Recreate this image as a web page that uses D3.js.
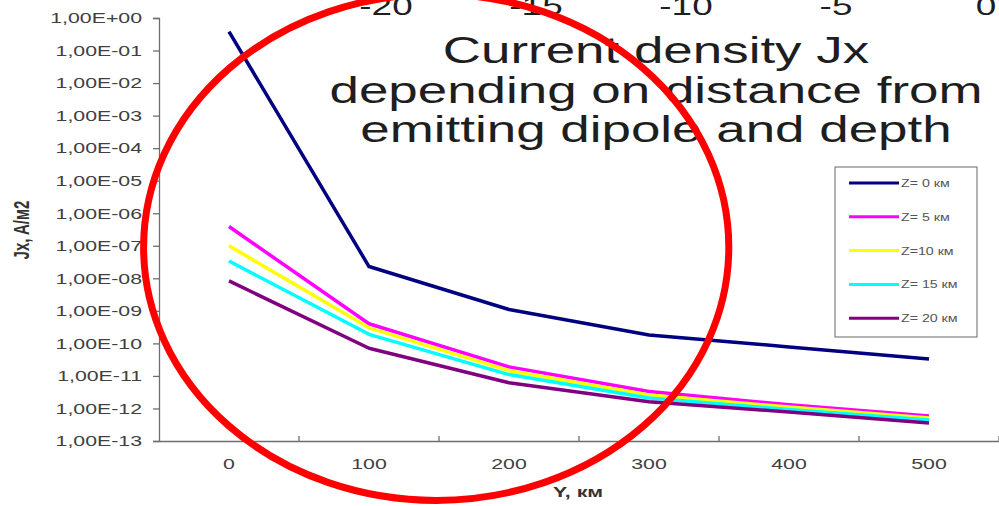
<!DOCTYPE html>
<html>
<head>
<meta charset="utf-8">
<script src="https://cdn.jsdelivr.net/npm/d3@7"></script>
<style>
  html, body { margin: 0; padding: 0; background: #fff; }
  svg { display: block; font-family: "Liberation Sans", Arial, sans-serif; }
</style>
</head>
<body>
<svg id="chart" width="999" height="506"></svg>
<script>
// Distance from the emitting dipole, km
const categories = [0, 100, 200, 300, 400, 500];

// Current density Jx (A/m2) for each depth Z
const z0  = [3.8e-1, 2.3e-8, 1.1e-9,  1.8e-10, 7.8e-11, 3.3e-11];
const z5  = [3.9e-7, 4.0e-10, 1.9e-11, 3.3e-12, 1.3e-12, 5.9e-13];
const z10 = [1.0e-7, 3.0e-10, 1.45e-11, 2.6e-12, 1.1e-12, 5.1e-13];
const z15 = [3.4e-8, 1.9e-10, 1.1e-11, 2.1e-12, 9.3e-13, 4.4e-13];
const z20 = [8.3e-9, 7.1e-11, 6.2e-12, 1.6e-12, 7.8e-13, 3.6e-13];

const seriesNames  = ["Z= 0 км", "Z= 5 км", "Z=10 км", "Z= 15 км", "Z= 20 км"];
const seriesColors = ["#000080", "#ff00ff", "#ffff00", "#00ffff", "#800080"];
const seriesValues = [z0, z5, z10, z15, z20];

// Decade ticks of the log axis and the secondary (top) axis labels
const yTicks = [1e0, 1e-1, 1e-2, 1e-3, 1e-4, 1e-5, 1e-6, 1e-7, 1e-8, 1e-9, 1e-10, 1e-11, 1e-12, 1e-13];
const topTicks = [-20, -15, -10, -5, 0];

const titleLines = ["Current density Jx", "depending on distance from", "emitting dipole and depth"];

// Highlight ellipse around the near-field region (centre in km / A/m2, radii in km / decades)
const ringCentre = [148, 9e-8];
const ringRadius = [209, 7.78];

const svg = d3.select("#chart");
const S = 1.42;            // horizontal glyph stretch used throughout
const axisColor = "#6e6e6e";
const labelColor = "#404040";

const x = d3.scaleBand().domain(categories).range([159, 999]);
const y = d3.scaleLog().domain([1e-13, 1]).range([441, 18]);
const xTop = d3.scaleLinear().domain([-20, 0]).range([386, 986]);
const xKm = d3.scaleLinear()
  .domain([categories[0], categories[categories.length - 1]])
  .range([x(categories[0]) + x.bandwidth() / 2, x(categories[categories.length - 1]) + x.bandwidth() / 2]);

function stretch(sel, s) {
  sel.each(function () {
    const t = d3.select(this);
    const tx = +t.attr("x") || 0, ty = +t.attr("y") || 0;
    t.attr("x", 0).attr("y", 0).attr("transform", `translate(${tx},${ty}) scale(${s},1)`);
  });
}

const sci = d => {
  const e = Math.round(Math.log10(d));
  return "1,00E" + (e < 0 ? "-" : "+") + String(Math.abs(e)).padStart(2, "0");
};

// Y axis (log)
const gy = svg.append("g")
  .attr("transform", "translate(159,0)")
  .call(d3.axisLeft(y).tickValues(yTicks).tickFormat(sci).tickSize(6).tickPadding(11));
gy.select(".domain").attr("stroke", axisColor).attr("stroke-width", 1.3);
gy.selectAll(".tick line").attr("stroke", axisColor).attr("stroke-width", 1.3);
gy.selectAll(".tick text")
  .attr("fill", labelColor).attr("font-size", 15)
  .attr("font-family", "'Liberation Sans', Arial, sans-serif")
  .call(stretch, S);

// X axis (categories centred in bands, ticks at band edges)
const gx = svg.append("g")
  .attr("transform", "translate(0,441)")
  .call(d3.axisBottom(x).tickSizeInner(0).tickSizeOuter(0).tickPadding(17));
gx.select(".domain").attr("stroke", axisColor).attr("stroke-width", 1.3);
gx.selectAll(".tick text")
  .attr("fill", labelColor).attr("font-size", 15)
  .attr("font-family", "'Liberation Sans', Arial, sans-serif")
  .call(stretch, S);
const edges = categories.slice(1).map(c => x(c)).concat([x.range()[1]]);
gx.selectAll(".edge").data(edges).join("line")
  .attr("class", "edge")
  .attr("x1", d => d).attr("x2", d => d)
  .attr("y1", 0).attr("y2", -5)
  .attr("stroke", axisColor).attr("stroke-width", 1.3);

// Top axis labels (partly outside the view)
svg.append("g").selectAll("text").data(topTicks).join("text")
  .attr("x", d => xTop(d)).attr("y", 15)
  .attr("text-anchor", "middle")
  .attr("font-size", 26)
  .attr("fill", "#1e1e1e")
  .text(d => d)
  .call(stretch, S);

// Axis titles
svg.append("text")
  .attr("transform", `translate(29,230) scale(${S},1) rotate(-90)`)
  .attr("text-anchor", "middle")
  .attr("font-size", 15).attr("font-weight", "bold")
  .attr("fill", "#333")
  .text("Jx, A/м2");

svg.append("text")
  .attr("x", 578).attr("y", 497)
  .attr("text-anchor", "middle")
  .attr("font-size", 15).attr("font-weight", "bold")
  .attr("fill", "#333")
  .text("Y, км")
  .call(stretch, S);

// Title
svg.append("g").selectAll("text").data(titleLines).join("text")
  .attr("x", 656).attr("y", (d, i) => 63 + i * 39.5)
  .attr("text-anchor", "middle")
  .attr("font-size", 36)
  .attr("fill", "#1e1e1e")
  .text(d => d)
  .call(stretch, 1.47);

// Series lines
const line = d3.line()
  .x((d, i) => x(categories[i]) + x.bandwidth() / 2)
  .y(d => y(d));

svg.append("g").selectAll("path").data(seriesValues).join("path")
  .attr("d", d => line(d))
  .attr("fill", "none")
  .attr("stroke", (d, i) => seriesColors[i])
  .attr("stroke-width", 3.5)
  .attr("stroke-linejoin", "round");

// Legend
const legend = svg.append("g").attr("transform", "translate(835,167)");
legend.append("rect")
  .attr("width", 142).attr("height", 170)
  .attr("fill", "#fff").attr("stroke", "#808080").attr("stroke-width", 1.2);
const items = legend.selectAll(".item").data(seriesNames).join("g")
  .attr("class", "item")
  .attr("transform", (d, i) => `translate(0,${16 + i * 33.8})`);
items.append("line")
  .attr("x1", 14).attr("x2", 64)
  .attr("stroke", (d, i) => seriesColors[i]).attr("stroke-width", 3);
items.append("text")
  .attr("x", 66).attr("y", 4)
  .attr("font-size", 10).attr("fill", "#555")
  .text(d => d)
  .call(stretch, S);

// Highlight ellipse
const ry = y(ringCentre[1] / Math.pow(10, ringRadius[1])) - y(ringCentre[1]);
svg.append("ellipse")
  .attr("cx", xKm(ringCentre[0]))
  .attr("cy", y(ringCentre[1]))
  .attr("rx", xKm(ringCentre[0] + ringRadius[0]) - xKm(ringCentre[0]))
  .attr("ry", ry)
  .attr("fill", "none")
  .attr("stroke", "#ff0000")
  .attr("stroke-width", 7);
</script>
</body>
</html>
